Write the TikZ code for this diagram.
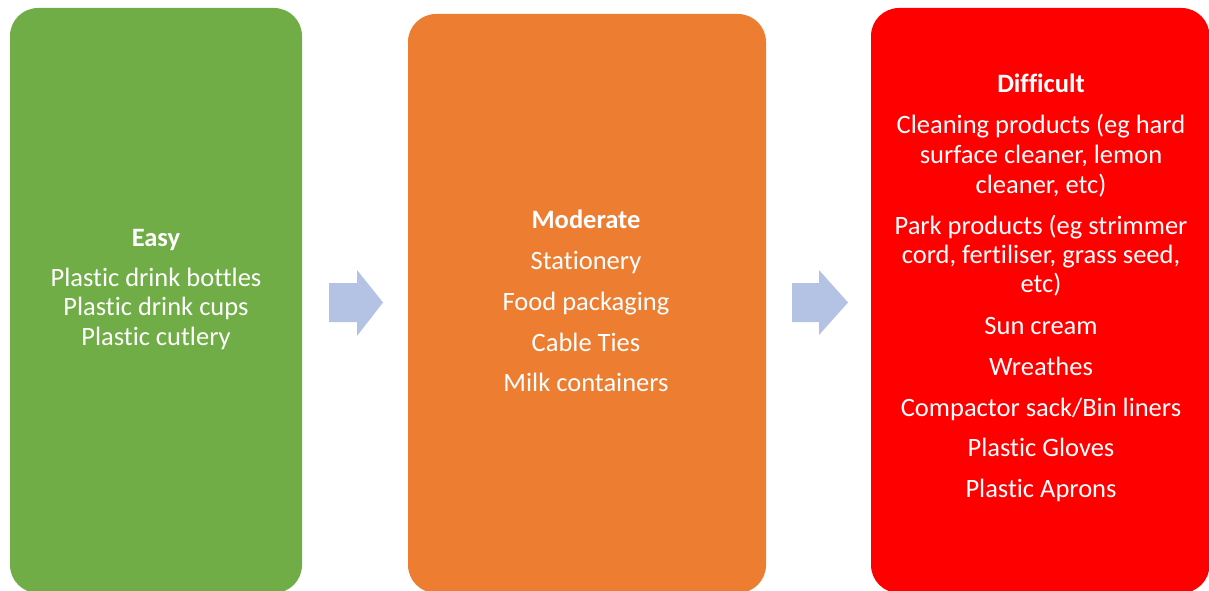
\documentclass[tikz,border=0pt]{standalone}
\usepackage{fontspec}
\setmainfont[Ligatures=NoCommon]{Carlito}
\definecolor{easyc}{HTML}{70AD47}
\definecolor{modc}{HTML}{ED7D31}
\definecolor{hardc}{HTML}{FF0000}
\definecolor{arrc}{HTML}{B4C2E3}
\begin{document}
\begin{tikzpicture}[x=1pt,y=-1pt,
  panel/.style={rounded corners=28pt},
  txt/.style={text=white,font=\fontsize{26.5}{30}\selectfont,anchor=base,inner sep=0pt},
  head/.style={txt,font=\fontsize{26.5}{30}\selectfont\bfseries}]
\useasboundingbox (0,0) rectangle (1209,591);
\begin{scope}
\clip (0,0) rectangle (1209,591);
\fill[easyc,panel] (10,8) rectangle (302,593);
\fill[modc,panel] (408,14) rectangle (766,593);
\fill[hardc,panel] (871,8) rectangle (1209.5,593);
\end{scope}
% arrows
\fill[arrc] (329,283) -- (357,283) -- (357,270) -- (383,302.5) -- (357,336) -- (357,322) -- (329,322) -- cycle;
\fill[arrc] (792,283) -- (819,283) -- (819,270) -- (848,302.5) -- (819,335) -- (819,322) -- (792,322) -- cycle;
% easy
\node[head] (e0) at (156,246) {Easy};
\node[txt] (e1) at (156,286) {Plastic drink bottles};
\node[txt] (e2) at (156,315.5) {Plastic drink cups};
\node[txt] (e3) at (156,345) {Plastic cutlery};
% moderate
\node[head] (m0) at (586,228) {Moderate};
\node[txt] (m1) at (586,269) {Stationery};
\node[txt] (m2) at (586,310) {Food packaging};
\node[txt] (m3) at (586,351) {Cable Ties};
\node[txt] (m4) at (586,391) {Milk containers};
% difficult
\node[head] (d0) at (1041,93) {Difficult};
\node[txt] (d1) at (1041,134) {Cleaning products (eg hard};
\node[txt] (d2) at (1041,163.5) {surface cleaner, lemon};
\node[txt] (d3) at (1041,193) {cleaner, etc)};
\node[txt] (d4) at (1041,234) {Park products (eg strimmer};
\node[txt] (d5) at (1041,263) {cord, fertiliser, grass seed,};
\node[txt] (d6) at (1041,292) {etc)};
\node[txt] (d7) at (1041,334) {Sun cream};
\node[txt] (d8) at (1041,375) {Wreathes};
\node[txt] (d9) at (1041,416) {Compactor sack/Bin liners};
\node[txt] (d10) at (1041,456) {Plastic Gloves};
\node[txt] (d11) at (1041,497) {Plastic Aprons};
\end{tikzpicture}
\end{document}
